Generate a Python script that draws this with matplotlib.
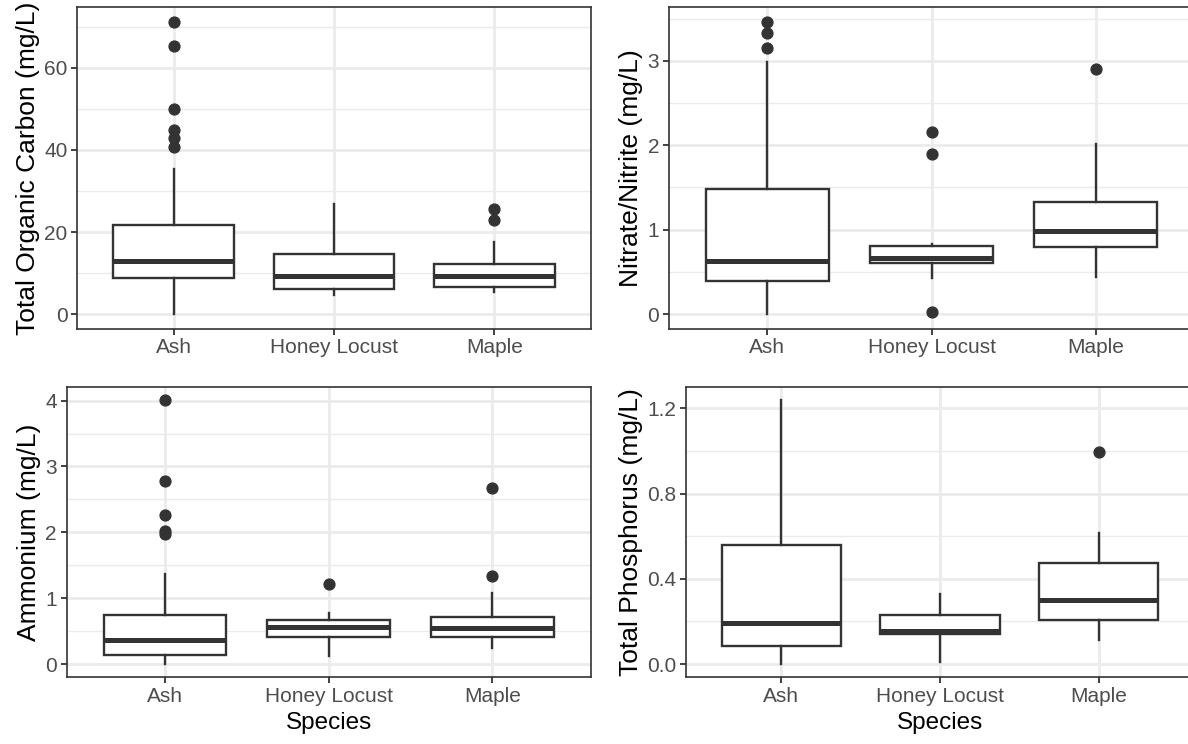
import numpy as np
import matplotlib.pyplot as plt

plt.rcParams['font.family'] = ['Liberation Sans', 'DejaVu Sans']

species = ["Ash", "Honey Locust", "Maple"]

# Total Organic Carbon (mg/L)
toc_q1 = [8.9, 6.2, 6.7]
toc_med = [13.0, 9.3, 9.2]
toc_q3 = [21.6, 14.6, 12.2]
toc_lo = [0.0, 4.7, 5.3]
toc_hi = [35.3, 26.8, 17.5]
toc_out = [[71.2, 65.4, 49.9, 44.8, 42.8, 40.8], [], [25.6, 22.9]]

# Nitrate/Nitrite (mg/L)
no3_q1 = [0.386, 0.60, 0.80]
no3_med = [0.634, 0.67, 0.986]
no3_q3 = [1.48, 0.808, 1.33]
no3_lo = [0.0, 0.426, 0.438]
no3_hi = [2.98, 0.835, 2.015]
no3_out = [[3.46, 3.33, 3.15], [2.157, 1.897, 0.027], [2.90]]

# Ammonium (mg/L)
nh4_q1 = [0.14, 0.416, 0.416]
nh4_med = [0.366, 0.561, 0.551]
nh4_q3 = [0.747, 0.672, 0.722]
nh4_lo = [0.0, 0.125, 0.24]
nh4_hi = [1.37, 0.777, 1.08]
nh4_out = [[4.01, 2.78, 2.27, 2.015, 1.975], [1.21], [2.67, 1.34]]

# Total Phosphorus (mg/L)
tp_q1 = [0.086, 0.140, 0.205]
tp_med = [0.193, 0.156, 0.299]
tp_q3 = [0.559, 0.229, 0.473]
tp_lo = [0.0, 0.009, 0.112]
tp_hi = [1.239, 0.327, 0.616]
tp_out = [[], [], [0.996]]

panels = [
    ("Total Organic Carbon (mg/L)", toc_q1, toc_med, toc_q3, toc_lo, toc_hi, toc_out,
     [0, 20, 40, 60], ["0", "20", "40", "60"], [10, 30, 50, 70]),
    ("Nitrate/Nitrite (mg/L)", no3_q1, no3_med, no3_q3, no3_lo, no3_hi, no3_out,
     [0, 1, 2, 3], ["0", "1", "2", "3"], [0.5, 1.5, 2.5, 3.5]),
    ("Ammonium (mg/L)", nh4_q1, nh4_med, nh4_q3, nh4_lo, nh4_hi, nh4_out,
     [0, 1, 2, 3, 4], ["0", "1", "2", "3", "4"], [0.5, 1.5, 2.5, 3.5]),
    ("Total Phosphorus (mg/L)", tp_q1, tp_med, tp_q3, tp_lo, tp_hi, tp_out,
     [0, 0.4, 0.8, 1.2], ["0.0", "0.4", "0.8", "1.2"], [0.2, 0.6, 1.0]),
]

# axes rectangles in pixels: left, top, right, bottom
rects = [(77.3, 7.3, 590.7, 328.7), (669, 7.3, 1194, 328.7),
         (66.7, 386.7, 590.7, 677.3), (686, 386.7, 1194, 677.3)]

W, H = 1188, 744
fig = plt.figure(figsize=(W / 100, H / 100), dpi=100)

dark = "#333333"
grid_col = "#EBEBEB"

for i, (title, q1, med, q3, lo, hi, out, yt, ytl, ymin) in enumerate(panels):
    l, t, r, b = rects[i]
    ax = fig.add_axes([l / W, 1 - b / H, (r - l) / W, (b - t) / H])
    stats = []
    for k in range(3):
        stats.append(dict(med=med[k], q1=q1[k], q3=q3[k], whislo=lo[k],
                          whishi=hi[k], fliers=out[k], label=species[k]))
    ax.bxp(stats, positions=[1, 2, 3], widths=0.75, showcaps=False,
           patch_artist=True,
           boxprops=dict(facecolor="white", edgecolor=dark, linewidth=1.7),
           medianprops=dict(color=dark, linewidth=3.6, solid_capstyle="butt"),
           whiskerprops=dict(color=dark, linewidth=1.7),
           flierprops=dict(marker="o", markerfacecolor=dark, markeredgecolor=dark,
                           markersize=7.8, linestyle="none"),
           zorder=3)

    allv = lo + hi + [v for o in out for v in o]
    vmin, vmax = min(allv), max(allv)
    pad = 0.05 * (vmax - vmin)
    ax.set_ylim(vmin - pad, vmax + pad)
    ax.set_xlim(0.4, 3.6)

    ax.set_yticks(yt)
    ax.set_yticklabels(ytl)
    ax.set_yticks(ymin, minor=True)
    ax.set_xticks([1, 2, 3])
    ax.set_xticklabels(species)

    ax.grid(True, which="major", color=grid_col, linewidth=2.0, zorder=0)
    ax.grid(True, which="minor", axis="y", color=grid_col, linewidth=1.0, zorder=0)
    ax.set_axisbelow(True)

    ax.tick_params(axis="both", which="major", length=4, width=1.3, color=dark,
                   labelcolor="#4D4D4D", labelsize=15, pad=3)
    ax.tick_params(axis="both", which="minor", length=0)
    for s in ax.spines.values():
        s.set_color(dark)
        s.set_linewidth(1.2)

    ax.set_ylabel(title, fontsize=19, color="black", labelpad=3)
    if i >= 2:
        ax.set_xlabel("Species", fontsize=17.5, color="black", labelpad=4)

fig.savefig("out.png", dpi=100)
